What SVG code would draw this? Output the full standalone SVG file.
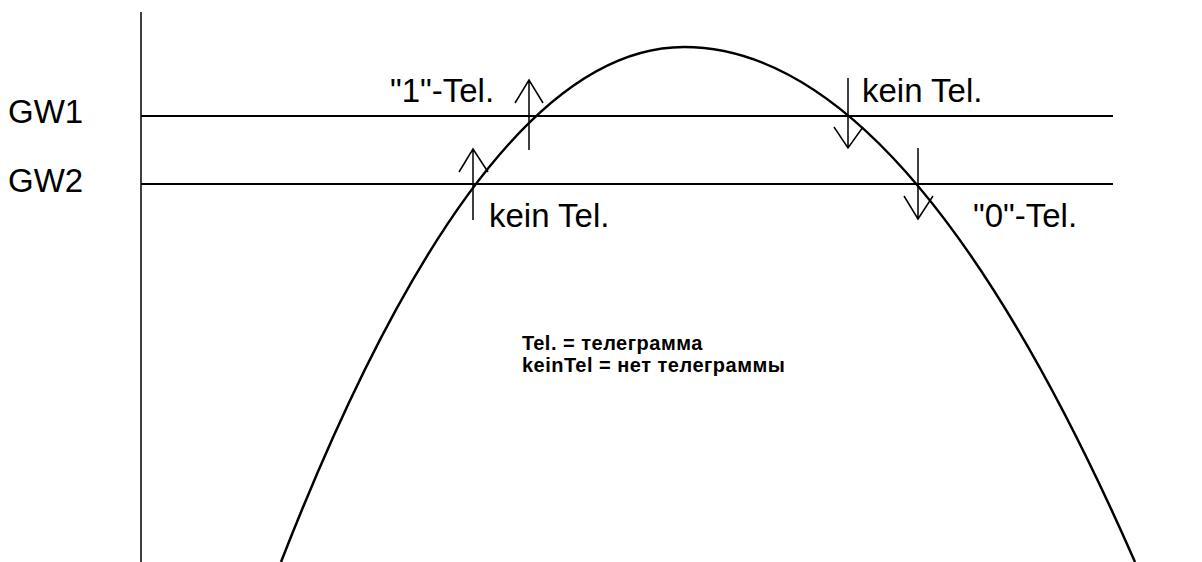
<svg xmlns="http://www.w3.org/2000/svg" width="1202" height="562" viewBox="0 0 1202 562">
<style>
.t{font-family:"Liberation Sans",Arial,sans-serif;font-size:33px;fill:#000}
.b{font-family:"Liberation Sans",Arial,sans-serif;font-size:20px;font-weight:bold;letter-spacing:0.5px;fill:#000}
.ln{stroke:#000;fill:none}
</style>
<rect width="1202" height="562" fill="#fff"/>
<g id="axis"><line class="ln" x1="141" y1="12" x2="141" y2="562" stroke-width="1.5"/></g>
<g id="gw1"><line class="ln" x1="141" y1="116" x2="1113" y2="116" stroke-width="2"/><text class="t" x="8" y="123">GW1</text></g>
<g id="gw2"><line class="ln" x1="141" y1="184" x2="1113" y2="184" stroke-width="2"/><text class="t" x="8" y="192">GW2</text></g>
<g id="curve"><path class="ln" stroke-width="2.5" d="M281,562 Q482,47 684,47 Q909,47 1135,562"/></g>
<g id="connectors" class="ln" stroke-width="1.5">
<path d="M529,150 V80 M515,103 L529,80 L543,103"/>
<path d="M473,220 V149 M459,172 L473,149 L488,172"/>
<path d="M848,78 V148 M834,127 L848,148 L863,127"/>
<path d="M918,148 V219 M904,196 L918,219 L933,196"/>
</g>
<g id="labels">
<text class="t" x="390" y="102">"1"-Tel.</text>
<text class="t" x="862" y="102">kein Tel.</text>
<text class="t" x="489" y="227">kein Tel.</text>
<text class="t" x="973" y="227">"0"-Tel.</text>
</g>
<g id="legend">
<text class="b" x="522" y="350">Tel. = телеграмма</text>
<text class="b" x="522" y="372">keinTel = нет телеграммы</text>
</g>
</svg>
